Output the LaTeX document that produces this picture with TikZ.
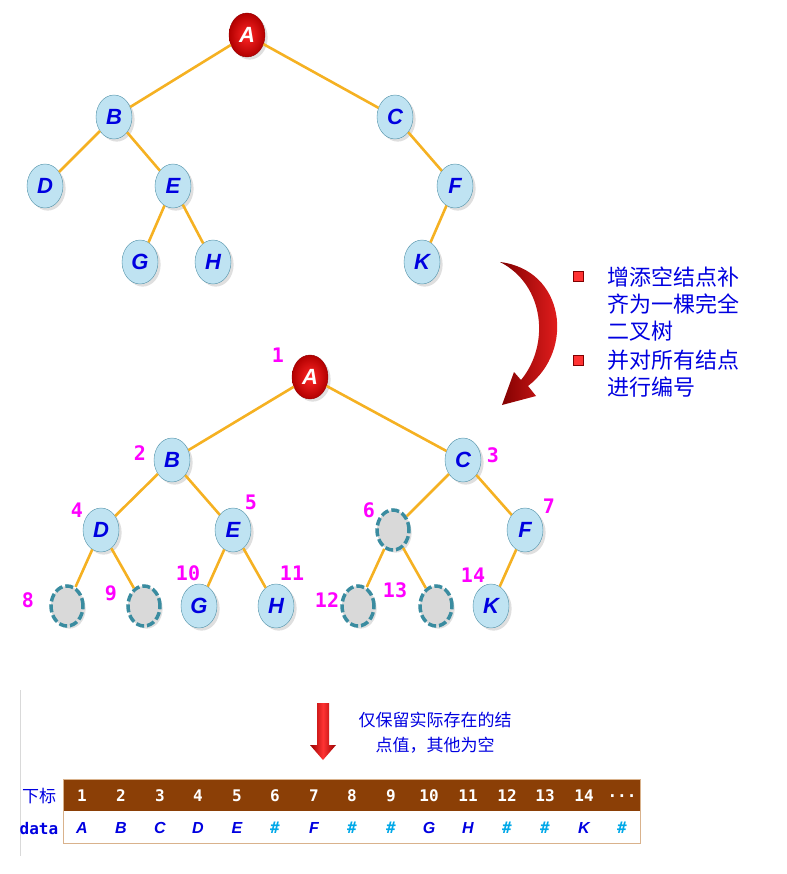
\documentclass[tikz,border=0pt]{standalone}
\usepackage{fontspec}
\setmainfont{Liberation Sans}
\newfontfamily\cjk{Noto Sans CJK SC}
\newfontfamily\mono{DejaVu Sans Mono}
\usetikzlibrary{shapes.geometric,shadows}
\definecolor{nodefill}{HTML}{BFE3F2}
\definecolor{nodeline}{HTML}{4E8FA6}
\definecolor{edgec}{HTML}{F5B122}
\definecolor{brownh}{HTML}{8B3F06}
\definecolor{mag}{HTML}{FF00FF}
\definecolor{txtblue}{HTML}{0000E0}
\definecolor{hash}{HTML}{00A8E8}
\definecolor{dashc}{HTML}{3A8CA0}
\tikzset{
  tn/.style={ellipse,draw=nodeline,fill=nodefill,minimum width=36pt,minimum height=44pt,inner sep=0pt,font=\bfseries\itshape\fontsize{22}{22}\selectfont,text=txtblue,drop shadow={opacity=0.25}},
  rn/.style={tn,draw=red!60!black,inner color=red!85,outer color=red!70!black,text=white},
  en/.style={ellipse,draw=dashc,line width=3.5pt,dash pattern=on 8pt off 3pt,fill=gray!30,minimum width=32pt,minimum height=40pt,inner sep=0pt,drop shadow={opacity=0.25}},
  ed/.style={draw=edgec,line width=2.6pt},
  num/.style={font=\mono\bfseries\fontsize{20}{20}\selectfont,text=mag},
  ct/.style={font=\cjk\fontsize{22}{26}\selectfont,text=txtblue,anchor=west},
  hd/.style={font=\mono\bfseries\fontsize{16}{16}\selectfont,text=white},
  dd/.style={font=\bfseries\itshape\fontsize{16}{16}\selectfont,text=txtblue},
  hs/.style={font=\mono\bfseries\fontsize{16}{16}\selectfont,text=hash},
}
\begin{document}
\begin{tikzpicture}[x=1pt,y=-1pt]
\useasboundingbox (0,0) rectangle (786,874);
% top tree
\node[rn] (A) at (247,35) {A};
\node[tn] (B) at (114,117) {B};
\node[tn] (C) at (395,117) {C};
\node[tn] (D) at (45,186) {D};
\node[tn] (E) at (173,186) {E};
\node[tn] (F) at (455,186) {F};
\node[tn] (G) at (140,262) {G};
\node[tn] (H) at (213,262) {H};
\node[tn] (K) at (422,262) {K};
\draw[ed] (A)--(B); \draw[ed] (A)--(C); \draw[ed] (B)--(D); \draw[ed] (B)--(E);
\draw[ed] (E)--(G); \draw[ed] (E)--(H); \draw[ed] (C)--(F); \draw[ed] (F)--(K);
% second tree
\node[rn] (A2) at (310,377) {A};
\node[tn] (B2) at (172,460) {B};
\node[tn] (C2) at (463,460) {C};
\node[tn] (D2) at (101,530) {D};
\node[tn] (E2) at (233,530) {E};
\node[en] (N6) at (393,530) {};
\node[tn] (F2) at (525,530) {F};
\node[en] (N8) at (67,606) {};
\node[en] (N9) at (144,606) {};
\node[tn] (G2) at (199,606) {G};
\node[tn] (H2) at (276,606) {H};
\node[en] (N12) at (358,606) {};
\node[en] (N13) at (436,606) {};
\node[tn] (K2) at (491,606) {K};
\foreach \a/\b in {A2/B2,A2/C2,B2/D2,B2/E2,C2/N6,C2/F2,D2/N8,D2/N9,E2/G2,E2/H2,N6/N12,N6/N13,F2/K2}
  \draw[ed] (\a)--(\b);
\foreach \t/\x/\y in {1/278/355,2/140/453,3/493/455,4/77/510,5/251/502,6/369/510,7/549/506,8/28/600,9/111/593,10/188/573,11/292/573,12/327/600,13/395/590,14/473/575}
  \node[num] (l\t) at (\x,\y) {\t};
% curved arrow
\shade[left color=red!50!black,right color=red!85,draw=none]
  (500,262) .. controls (565,270) and (575,350) .. (528,386)
  -- (536,396) -- (502,405) -- (514,372) -- (521,380)
  .. controls (550,345) and (545,285) .. (500,262) -- cycle;
% bullets and text
\node[fill=red!80,draw=red!50!black,minimum size=10pt,inner sep=0pt] (b1) at (578,276) {};
\node[fill=red!80,draw=red!50!black,minimum size=10pt,inner sep=0pt] (b2) at (578,360) {};
\node[ct] (t1) at (604,277) {增添空结点补};
\node[ct] (t2) at (604,304) {齐为一棵完全};
\node[ct] (t3) at (604,331) {二叉树};
\node[ct] (t4) at (604,360) {并对所有结点};
\node[ct] (t5) at (604,387) {进行编号};
% down arrow
\shade[left color=red!60!black,right color=red!60!black,middle color=red!80,draw=none]
  (317,703) -- (329,703) -- (329,745) -- (336,745) -- (323,760) -- (310,745) -- (317,745) -- cycle;
\node[font=\cjk\fontsize{17}{17}\selectfont,text=txtblue] (m1) at (435,720) {仅保留实际存在的结};
\node[font=\cjk\fontsize{17}{17}\selectfont,text=txtblue] (m2) at (435,745) {点值，其他为空};
% table
\draw[gray!30] (20,690) -- (20,856);
\fill[brownh] (63,779) rectangle (640,811);
\draw[draw=brown!60!white,line width=1pt] (63,779) rectangle (640,843);
\node[font=\cjk\fontsize{17}{17}\selectfont,text=txtblue] (xb) at (39,796) {下标};
\node[font=\mono\bfseries\fontsize{16}{16}\selectfont,text=txtblue] (da) at (39,829) {data};
\foreach \i/\x in {1/82,2/121,3/160,4/198,5/237,6/275,7/314,8/352,9/391,10/429,11/468,12/507,13/545,14/584}
  \node[hd] (h\i) at (\x,796) {\i};
\node[hd] (h15) at (622,796) {...};
\foreach \c/\x/\s in {A/82/dd,B/121/dd,C/160/dd,D/198/dd,E/237/dd,\#/275/hs,F/314/dd,\#/352/hs,\#/391/hs,G/429/dd,H/468/dd,\#/507/hs,\#/545/hs,K/584/dd,\#/622/hs}
  \node[\s] at (\x,828) {\c};
\end{tikzpicture}
\end{document}
